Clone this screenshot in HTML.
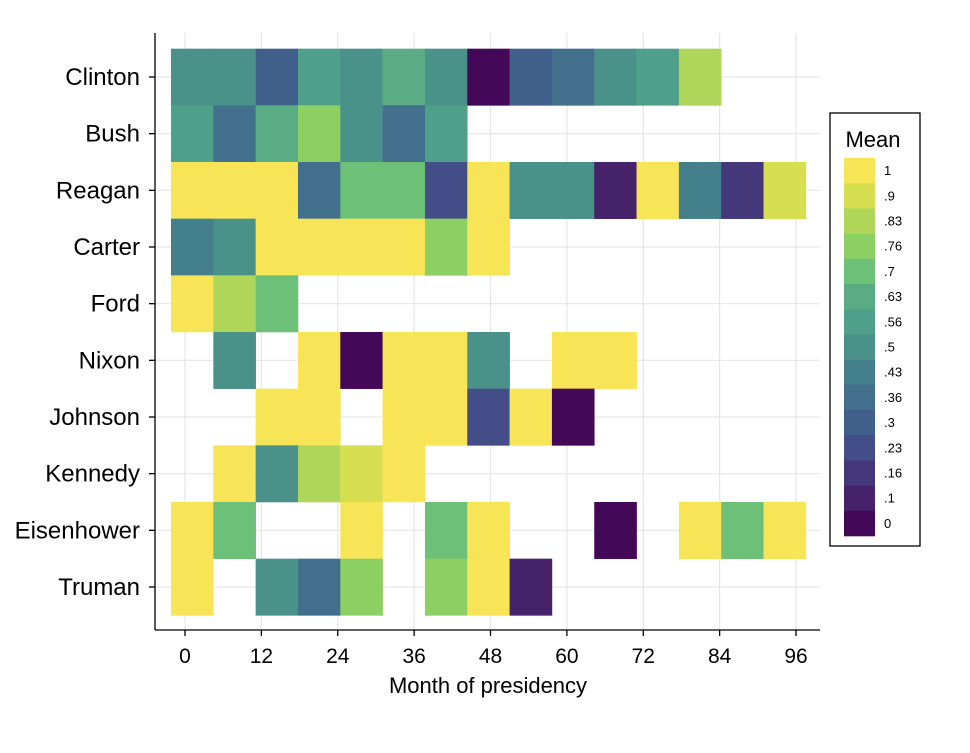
<!DOCTYPE html>
<html><head><meta charset="utf-8"><style>
body{margin:0;background:#fff;}
svg text{font-family:"Liberation Sans",sans-serif;fill:#000;}
</style></head><body>
<svg id="chart" width="970" height="748" xmlns="http://www.w3.org/2000/svg">
<rect width="970" height="748" fill="#fff"/>
<g id="grid"></g><g id="cells"></g><g id="axes"></g><g id="legend"></g>
</svg>
<script>
const presidents = ["Clinton","Bush","Reagan","Carter","Ford","Nixon","Johnson","Kennedy","Eisenhower","Truman"];
const xTicks = [0,12,24,36,48,60,72,84,96];
const levels = [0,.1,.16,.23,.3,.36,.43,.5,.56,.63,.7,.76,.83,.9,1];
const levelLabels = ["0",".1",".16",".23",".3",".36",".43",".5",".56",".63",".7",".76",".83",".9","1"];
const N = null;
const clinton = [.5,.5,.3,.56,.5,.63,.5,0,.3,.36,.5,.56,.83];
const bush = [.56,.36,.63,.76,.5,.36,.56];
const reagan = [1,1,1,.36,.7,.7,.23,1,.5,.5,.1,1,.43,.16,.9];
const carter = [.43,.5,1,1,1,1,.76,1];
const ford = [1,.83,.7];
const nixon = [N,.5,N,1,0,1,1,.5,N,1,1];
const johnson = [N,N,1,1,N,1,1,.23,1,0];
const kennedy = [N,1,.5,.83,.9,1];
const eisenhower = [1,.7,N,N,1,N,.7,1,N,N,0,N,1,.7,1];
const truman = [1,N,.5,.36,.76,N,.76,1,.1];
const rows = [clinton,bush,reagan,carter,ford,nixon,johnson,kennedy,eisenhower,truman];
const binStart = -2.2, binWidth = 6.65;
const palette = ["#440858","#45226a","#45387a","#434d87","#405f8b","#416f8c","#43808b","#4a918a","#4fa08a","#5aac85","#6cc077","#8ccf63","#b0d659","#d6df4f","#f7e457"];

const NS="http://www.w3.org/2000/svg";
function mk(tag,attrs,parent){const e=document.createElementNS(NS,tag);for(const k in attrs)e.setAttribute(k,attrs[k]);parent.appendChild(e);return e;}
const xScale = m => 185 + m*(796-185)/96;
const rowH = (587-77)/9;
const yScale = i => 77 + i*rowH;
function levelIndex(v){let b=0,d=1e9;levels.forEach((l,i)=>{if(Math.abs(l-v)<d){d=Math.abs(l-v);b=i;}});return b;}

const grid=document.getElementById('grid'),cells=document.getElementById('cells'),axes=document.getElementById('axes'),leg=document.getElementById('legend');
xTicks.forEach(t=>{const l=mk('line',{x1:xScale(t),x2:xScale(t),y1:33,y2:630,stroke:'#e6e6e6','stroke-width':1.2},grid);

});
presidents.forEach((p,i)=>{const l=mk('line',{x1:155,x2:820,y1:yScale(i),y2:yScale(i),stroke:'#e6e6e6','stroke-width':1.2},grid);

});

rows.forEach((vals,i)=>{vals.forEach((v,j)=>{if(v===null)return;
const x0=xScale(binStart+j*binWidth),x1=xScale(binStart+(j+1)*binWidth);
const r=mk('rect',{x:x0,y:yScale(i)-rowH/2,width:x1-x0+0.3,height:rowH+0.3,fill:palette[levelIndex(v)]},cells);

});});

let a=mk('line',{x1:155,x2:155,y1:33,y2:630,stroke:'#000','stroke-width':1.3},axes);


a=mk('line',{x1:155,x2:820,y1:630,y2:630,stroke:'#000','stroke-width':1.3},axes);


xTicks.forEach(t=>{mk('line',{x1:xScale(t),x2:xScale(t),y1:630,y2:636,stroke:'#000','stroke-width':1.3},axes);
const tx=mk('text',{x:xScale(t),y:663,'text-anchor':'middle','font-size':21},axes);tx.textContent=t;

});
presidents.forEach((p,i)=>{mk('line',{x1:149,x2:155,y1:yScale(i),y2:yScale(i),stroke:'#000','stroke-width':1.3},axes);
const tx=mk('text',{x:140,y:yScale(i)+8,'text-anchor':'end','font-size':24},axes);tx.textContent=p;

});
const xt=mk('text',{x:488,y:693,'text-anchor':'middle','font-size':22},axes);xt.textContent='Month of presidency';



const box=mk('rect',{x:830,y:113,width:90,height:433,fill:'#fff',stroke:'#000','stroke-width':1.3},leg);


const lt=mk('text',{x:873,y:147,'text-anchor':'middle','font-size':22},leg);lt.textContent='Mean';


const sh=(536-158)/levels.length;
levels.forEach((l,k)=>{const idx=levels.length-1-k;const y=158+k*sh;
const s=mk('rect',{x:844,y:y,width:31,height:sh+0.3,fill:palette[idx]},leg);


const t=mk('text',{x:884,y:y+sh/2+4.5,'font-size':13},leg);t.textContent=levelLabels[idx];

});
</script>
</body></html>
